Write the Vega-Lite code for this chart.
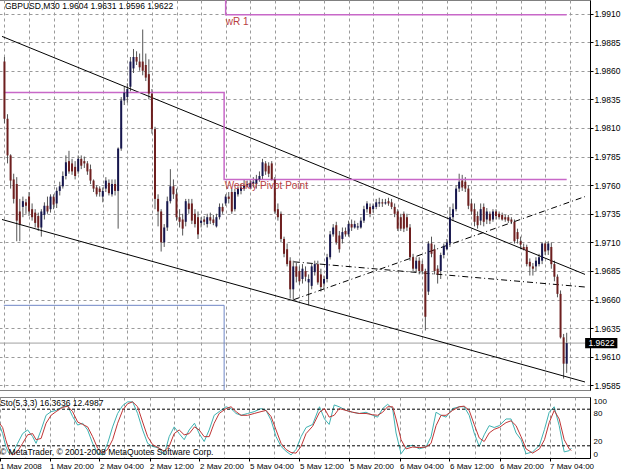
{
  "$schema": "https://vega.github.io/schema/vega-lite/v6.json",
  "padding": {"left": -4, "top": -4, "right": 0, "bottom": 0},
  "background": "white",
  "spacing": 3,
  "config": {
    "font": "Liberation Sans",
    "view": {"stroke": "#808080", "strokeWidth": 1},
    "text": {"font": "Liberation Sans"},
    "axis": {"labelOverlap": false, "labelFlush": false, "tickCount": 100}
  },
  "datasets": {
    "candles": [
      {"i":0,"o":1.9868,"h":1.9872,"l":1.9814,"c":1.9818},
      {"i":1,"o":1.9818,"h":1.9822,"l":1.9779,"c":1.9786},
      {"i":2,"o":1.9786,"h":1.9787,"l":1.9757,"c":1.9764},
      {"i":3,"o":1.9765,"h":1.9770,"l":1.9744,"c":1.9748},
      {"i":4,"o":1.9761,"h":1.9767,"l":1.9711,"c":1.9729},
      {"i":5,"o":1.9737,"h":1.9748,"l":1.9711,"c":1.9726},
      {"i":6,"o":1.9741,"h":1.9750,"l":1.9732,"c":1.9746},
      {"i":7,"o":1.9745,"h":1.9748,"l":1.9735,"c":1.9742},
      {"i":8,"o":1.9750,"h":1.9754,"l":1.9733,"c":1.9737},
      {"i":9,"o":1.9739,"h":1.9744,"l":1.9729,"c":1.9732},
      {"i":10,"o":1.9736,"h":1.9739,"l":1.9723,"c":1.9727},
      {"i":11,"o":1.9733,"h":1.9736,"l":1.9720,"c":1.9723},
      {"i":12,"o":1.9723,"h":1.9739,"l":1.9715,"c":1.9737},
      {"i":13,"o":1.9734,"h":1.9745,"l":1.9730,"c":1.9742},
      {"i":14,"o":1.9742,"h":1.9750,"l":1.9735,"c":1.9737},
      {"i":15,"o":1.9739,"h":1.9752,"l":1.9736,"c":1.9750},
      {"i":16,"o":1.9750,"h":1.9752,"l":1.9739,"c":1.9743},
      {"i":17,"o":1.9744,"h":1.9758,"l":1.9740,"c":1.9755},
      {"i":18,"o":1.9755,"h":1.9763,"l":1.9751,"c":1.9759},
      {"i":19,"o":1.9759,"h":1.9772,"l":1.9757,"c":1.9768},
      {"i":20,"o":1.9768,"h":1.9786,"l":1.9765,"c":1.9780},
      {"i":21,"o":1.9781,"h":1.9790,"l":1.9770,"c":1.9772},
      {"i":22,"o":1.9779,"h":1.9783,"l":1.9769,"c":1.9772},
      {"i":23,"o":1.9776,"h":1.9781,"l":1.9765,"c":1.9768},
      {"i":24,"o":1.9772,"h":1.9786,"l":1.9770,"c":1.9783},
      {"i":25,"o":1.9783,"h":1.9786,"l":1.9774,"c":1.9777},
      {"i":26,"o":1.9781,"h":1.9785,"l":1.9775,"c":1.9779},
      {"i":27,"o":1.9779,"h":1.9781,"l":1.9769,"c":1.9772},
      {"i":28,"o":1.9774,"h":1.9778,"l":1.9761,"c":1.9764},
      {"i":29,"o":1.9764,"h":1.9765,"l":1.9754,"c":1.9757},
      {"i":30,"o":1.9758,"h":1.9760,"l":1.9750,"c":1.9752},
      {"i":31,"o":1.9757,"h":1.9759,"l":1.9750,"c":1.9754},
      {"i":32,"o":1.9750,"h":1.9758,"l":1.9745,"c":1.9755},
      {"i":33,"o":1.9757,"h":1.9767,"l":1.9754,"c":1.9764},
      {"i":34,"o":1.9762,"h":1.9765,"l":1.9751,"c":1.9753},
      {"i":35,"o":1.9752,"h":1.9765,"l":1.9750,"c":1.9761},
      {"i":36,"o":1.9761,"h":1.9765,"l":1.9751,"c":1.9755},
      {"i":37,"o":1.9755,"h":1.9793,"l":1.9722,"c":1.9792},
      {"i":38,"o":1.9792,"h":1.9837,"l":1.9790,"c":1.9834},
      {"i":39,"o":1.9834,"h":1.9846,"l":1.9830,"c":1.9841},
      {"i":40,"o":1.9837,"h":1.9849,"l":1.9832,"c":1.9844},
      {"i":41,"o":1.9846,"h":1.9872,"l":1.9842,"c":1.9868},
      {"i":42,"o":1.9862,"h":1.9879,"l":1.9858,"c":1.9872},
      {"i":43,"o":1.9872,"h":1.9877,"l":1.9865,"c":1.9868},
      {"i":44,"o":1.9868,"h":1.9875,"l":1.9860,"c":1.9863},
      {"i":45,"o":1.9868,"h":1.9896,"l":1.9856,"c":1.9860},
      {"i":46,"o":1.9865,"h":1.9875,"l":1.9851,"c":1.9854},
      {"i":47,"o":1.9857,"h":1.9870,"l":1.9835,"c":1.9840},
      {"i":48,"o":1.9840,"h":1.9844,"l":1.9805,"c":1.9809},
      {"i":49,"o":1.9809,"h":1.9811,"l":1.9739,"c":1.9748},
      {"i":50,"o":1.9748,"h":1.9752,"l":1.9724,"c":1.9737},
      {"i":51,"o":1.9737,"h":1.9739,"l":1.9702,"c":1.9710},
      {"i":52,"o":1.9710,"h":1.9726,"l":1.9706,"c":1.9723},
      {"i":53,"o":1.9723,"h":1.9750,"l":1.9720,"c":1.9746},
      {"i":54,"o":1.9746,"h":1.9774,"l":1.9744,"c":1.9759},
      {"i":55,"o":1.9759,"h":1.9765,"l":1.9748,"c":1.9752},
      {"i":56,"o":1.9752,"h":1.9757,"l":1.9729,"c":1.9732},
      {"i":57,"o":1.9732,"h":1.9739,"l":1.9723,"c":1.9728},
      {"i":58,"o":1.9730,"h":1.9735,"l":1.9716,"c":1.9722},
      {"i":59,"o":1.9728,"h":1.9748,"l":1.9724,"c":1.9746},
      {"i":60,"o":1.9744,"h":1.9748,"l":1.9735,"c":1.9739},
      {"i":61,"o":1.9744,"h":1.9748,"l":1.9726,"c":1.9729},
      {"i":62,"o":1.9735,"h":1.9739,"l":1.9723,"c":1.9726},
      {"i":63,"o":1.9732,"h":1.9737,"l":1.9713,"c":1.9717},
      {"i":64,"o":1.9727,"h":1.9732,"l":1.9723,"c":1.9729},
      {"i":65,"o":1.9730,"h":1.9733,"l":1.9725,"c":1.9728},
      {"i":66,"o":1.9726,"h":1.9735,"l":1.9723,"c":1.9732},
      {"i":67,"o":1.9732,"h":1.9736,"l":1.9726,"c":1.9729},
      {"i":68,"o":1.9730,"h":1.9734,"l":1.9725,"c":1.9727},
      {"i":69,"o":1.9724,"h":1.9735,"l":1.9723,"c":1.9732},
      {"i":70,"o":1.9732,"h":1.9744,"l":1.9730,"c":1.9741},
      {"i":71,"o":1.9741,"h":1.9744,"l":1.9735,"c":1.9737},
      {"i":72,"o":1.9744,"h":1.9752,"l":1.9742,"c":1.9750},
      {"i":73,"o":1.9750,"h":1.9754,"l":1.9744,"c":1.9748},
      {"i":74,"o":1.9754,"h":1.9757,"l":1.9735,"c":1.9737},
      {"i":75,"o":1.9739,"h":1.9757,"l":1.9737,"c":1.9754},
      {"i":76,"o":1.9752,"h":1.9759,"l":1.9750,"c":1.9757},
      {"i":77,"o":1.9755,"h":1.9761,"l":1.9752,"c":1.9758},
      {"i":78,"o":1.9757,"h":1.9765,"l":1.9755,"c":1.9760},
      {"i":79,"o":1.9760,"h":1.9764,"l":1.9758,"c":1.9761},
      {"i":80,"o":1.9758,"h":1.9765,"l":1.9757,"c":1.9762},
      {"i":81,"o":1.9761,"h":1.9767,"l":1.9758,"c":1.9763},
      {"i":82,"o":1.9761,"h":1.9769,"l":1.9757,"c":1.9765},
      {"i":83,"o":1.9765,"h":1.9772,"l":1.9763,"c":1.9768},
      {"i":84,"o":1.9768,"h":1.9783,"l":1.9765,"c":1.9780},
      {"i":85,"o":1.9779,"h":1.9781,"l":1.9769,"c":1.9772},
      {"i":86,"o":1.9777,"h":1.9780,"l":1.9767,"c":1.9770},
      {"i":87,"o":1.9779,"h":1.9781,"l":1.9764,"c":1.9765},
      {"i":88,"o":1.9765,"h":1.9767,"l":1.9735,"c":1.9737},
      {"i":89,"o":1.9739,"h":1.9744,"l":1.9729,"c":1.9732},
      {"i":90,"o":1.9735,"h":1.9737,"l":1.9710,"c":1.9713},
      {"i":91,"o":1.9713,"h":1.9715,"l":1.9697,"c":1.9700},
      {"i":92,"o":1.9704,"h":1.9709,"l":1.9689,"c":1.9691},
      {"i":93,"o":1.9694,"h":1.9697,"l":1.9661,"c":1.9669},
      {"i":94,"o":1.9669,"h":1.9694,"l":1.9659,"c":1.9689},
      {"i":95,"o":1.9689,"h":1.9692,"l":1.9675,"c":1.9680},
      {"i":96,"o":1.9685,"h":1.9689,"l":1.9673,"c":1.9676},
      {"i":97,"o":1.9678,"h":1.9691,"l":1.9674,"c":1.9687},
      {"i":98,"o":1.9685,"h":1.9689,"l":1.9676,"c":1.9680},
      {"i":99,"o":1.9675,"h":1.9682,"l":1.9655,"c":1.9678},
      {"i":100,"o":1.9672,"h":1.9691,"l":1.9669,"c":1.9689},
      {"i":101,"o":1.9684,"h":1.9694,"l":1.9681,"c":1.9691},
      {"i":102,"o":1.9691,"h":1.9694,"l":1.9673,"c":1.9675},
      {"i":103,"o":1.9682,"h":1.9687,"l":1.9667,"c":1.9671},
      {"i":104,"o":1.9674,"h":1.9681,"l":1.9669,"c":1.9678},
      {"i":105,"o":1.9678,"h":1.9700,"l":1.9675,"c":1.9697},
      {"i":106,"o":1.9697,"h":1.9720,"l":1.9695,"c":1.9717},
      {"i":107,"o":1.9717,"h":1.9726,"l":1.9715,"c":1.9723},
      {"i":108,"o":1.9725,"h":1.9728,"l":1.9708,"c":1.9710},
      {"i":109,"o":1.9716,"h":1.9720,"l":1.9701,"c":1.9704},
      {"i":110,"o":1.9713,"h":1.9723,"l":1.9709,"c":1.9719},
      {"i":111,"o":1.9720,"h":1.9723,"l":1.9715,"c":1.9717},
      {"i":112,"o":1.9717,"h":1.9729,"l":1.9715,"c":1.9726},
      {"i":113,"o":1.9726,"h":1.9730,"l":1.9720,"c":1.9723},
      {"i":114,"o":1.9723,"h":1.9729,"l":1.9722,"c":1.9726},
      {"i":115,"o":1.9723,"h":1.9727,"l":1.9721,"c":1.9724},
      {"i":116,"o":1.9723,"h":1.9732,"l":1.9722,"c":1.9729},
      {"i":117,"o":1.9729,"h":1.9742,"l":1.9727,"c":1.9739},
      {"i":118,"o":1.9739,"h":1.9746,"l":1.9736,"c":1.9744},
      {"i":119,"o":1.9741,"h":1.9744,"l":1.9732,"c":1.9735},
      {"i":120,"o":1.9739,"h":1.9744,"l":1.9736,"c":1.9742},
      {"i":121,"o":1.9741,"h":1.9748,"l":1.9739,"c":1.9745},
      {"i":122,"o":1.9744,"h":1.9749,"l":1.9741,"c":1.9745},
      {"i":123,"o":1.9745,"h":1.9748,"l":1.9741,"c":1.9744},
      {"i":124,"o":1.9744,"h":1.9748,"l":1.9743,"c":1.9745},
      {"i":125,"o":1.9746,"h":1.9749,"l":1.9742,"c":1.9744},
      {"i":126,"o":1.9745,"h":1.9748,"l":1.9739,"c":1.9741},
      {"i":127,"o":1.9741,"h":1.9744,"l":1.9732,"c":1.9735},
      {"i":128,"o":1.9737,"h":1.9739,"l":1.9720,"c":1.9722},
      {"i":129,"o":1.9732,"h":1.9735,"l":1.9720,"c":1.9722},
      {"i":130,"o":1.9735,"h":1.9737,"l":1.9719,"c":1.9722},
      {"i":131,"o":1.9732,"h":1.9735,"l":1.9720,"c":1.9723},
      {"i":132,"o":1.9723,"h":1.9726,"l":1.9694,"c":1.9697},
      {"i":133,"o":1.9697,"h":1.9700,"l":1.9685,"c":1.9687},
      {"i":134,"o":1.9687,"h":1.9697,"l":1.9684,"c":1.9694},
      {"i":135,"o":1.9694,"h":1.9697,"l":1.9682,"c":1.9685},
      {"i":136,"o":1.9691,"h":1.9694,"l":1.9682,"c":1.9685},
      {"i":137,"o":1.9685,"h":1.9687,"l":1.9633,"c":1.9645},
      {"i":138,"o":1.9667,"h":1.9711,"l":1.9664,"c":1.9709},
      {"i":139,"o":1.9709,"h":1.9715,"l":1.9697,"c":1.9700},
      {"i":140,"o":1.9704,"h":1.9708,"l":1.9682,"c":1.9685},
      {"i":141,"o":1.9687,"h":1.9690,"l":1.9674,"c":1.9682},
      {"i":142,"o":1.9685,"h":1.9701,"l":1.9678,"c":1.9699},
      {"i":143,"o":1.9699,"h":1.9709,"l":1.9696,"c":1.9707},
      {"i":144,"o":1.9704,"h":1.9713,"l":1.9703,"c":1.9710},
      {"i":145,"o":1.9709,"h":1.9741,"l":1.9706,"c":1.9732},
      {"i":146,"o":1.9732,"h":1.9744,"l":1.9729,"c":1.9739},
      {"i":147,"o":1.9739,"h":1.9760,"l":1.9737,"c":1.9757},
      {"i":148,"o":1.9757,"h":1.9770,"l":1.9754,"c":1.9763},
      {"i":149,"o":1.9764,"h":1.9769,"l":1.9755,"c":1.9758},
      {"i":150,"o":1.9763,"h":1.9767,"l":1.9754,"c":1.9757},
      {"i":151,"o":1.9757,"h":1.9760,"l":1.9739,"c":1.9742},
      {"i":152,"o":1.9744,"h":1.9748,"l":1.9734,"c":1.9737},
      {"i":153,"o":1.9739,"h":1.9744,"l":1.9724,"c":1.9728},
      {"i":154,"o":1.9733,"h":1.9737,"l":1.9722,"c":1.9725},
      {"i":155,"o":1.9729,"h":1.9744,"l":1.9725,"c":1.9739},
      {"i":156,"o":1.9741,"h":1.9744,"l":1.9724,"c":1.9728},
      {"i":157,"o":1.9730,"h":1.9740,"l":1.9726,"c":1.9737},
      {"i":158,"o":1.9735,"h":1.9737,"l":1.9726,"c":1.9729},
      {"i":159,"o":1.9730,"h":1.9739,"l":1.9728,"c":1.9737},
      {"i":160,"o":1.9737,"h":1.9739,"l":1.9730,"c":1.9733},
      {"i":161,"o":1.9735,"h":1.9737,"l":1.9730,"c":1.9732},
      {"i":162,"o":1.9734,"h":1.9736,"l":1.9729,"c":1.9730},
      {"i":163,"o":1.9732,"h":1.9734,"l":1.9728,"c":1.9730},
      {"i":164,"o":1.9732,"h":1.9734,"l":1.9727,"c":1.9729},
      {"i":165,"o":1.9730,"h":1.9732,"l":1.9726,"c":1.9728},
      {"i":166,"o":1.9728,"h":1.9730,"l":1.9709,"c":1.9711},
      {"i":167,"o":1.9719,"h":1.9722,"l":1.9709,"c":1.9713},
      {"i":168,"o":1.9711,"h":1.9715,"l":1.9704,"c":1.9708},
      {"i":169,"o":1.9706,"h":1.9709,"l":1.9703,"c":1.9704},
      {"i":170,"o":1.9706,"h":1.9708,"l":1.9689,"c":1.9691},
      {"i":171,"o":1.9693,"h":1.9696,"l":1.9681,"c":1.9689},
      {"i":172,"o":1.9689,"h":1.9692,"l":1.9681,"c":1.9687},
      {"i":173,"o":1.9689,"h":1.9697,"l":1.9685,"c":1.9694},
      {"i":174,"o":1.9691,"h":1.9700,"l":1.9689,"c":1.9697},
      {"i":175,"o":1.9694,"h":1.9710,"l":1.9691,"c":1.9709},
      {"i":176,"o":1.9709,"h":1.9710,"l":1.9699,"c":1.9702},
      {"i":177,"o":1.9703,"h":1.9711,"l":1.9699,"c":1.9709},
      {"i":178,"o":1.9706,"h":1.9710,"l":1.9687,"c":1.9691},
      {"i":179,"o":1.9691,"h":1.9694,"l":1.9676,"c":1.9680},
      {"i":180,"o":1.9680,"h":1.9682,"l":1.9662,"c":1.9665},
      {"i":181,"o":1.9665,"h":1.9668,"l":1.9626,"c":1.9627},
      {"i":182,"o":1.9627,"h":1.9630,"l":1.9591,"c":1.9604},
      {"i":183,"o":1.9604,"h":1.9631,"l":1.9596,"c":1.9622}
    ],
    "stoch": [
      {"i":0,"k":54,"d":57},{"i":1,"k":40,"d":50},{"i":2,"k":19,"d":30},{"i":3,"k":8,"d":14},
      {"i":4.2,"k":8,"d":5},{"i":5.8,"k":24,"d":11},{"i":7.4,"k":40,"d":24},{"i":9,"k":46,"d":38},
      {"i":10.6,"k":35,"d":40},{"i":11.7,"k":24,"d":30},{"i":13.3,"k":46,"d":32},{"i":14.9,"k":70,"d":57},
      {"i":16.5,"k":76,"d":70},{"i":18.1,"k":78,"d":76},{"i":20.2,"k":84,"d":83},{"i":21.8,"k":86,"d":85},
      {"i":23.4,"k":68,"d":76},{"i":25,"k":54,"d":59},{"i":26.6,"k":57,"d":55},{"i":28.2,"k":46,"d":51},
      {"i":29.8,"k":24,"d":35},{"i":31.4,"k":8,"d":16},{"i":33,"k":5,"d":8},{"i":34.6,"k":24,"d":14},
      {"i":36.2,"k":51,"d":30},{"i":37.8,"k":73,"d":57},{"i":39.4,"k":86,"d":78},{"i":41,"k":92,"d":89},
      {"i":42.6,"k":92,"d":92},{"i":44.2,"k":73,"d":84},{"i":45.8,"k":46,"d":59},{"i":47.4,"k":24,"d":35},
      {"i":49,"k":19,"d":22},{"i":51.1,"k":16,"d":16},{"i":52.7,"k":5,"d":11},{"i":54.3,"k":35,"d":19},
      {"i":55.9,"k":51,"d":40},{"i":57.5,"k":40,"d":46},{"i":59.1,"k":30,"d":38},{"i":60.7,"k":46,"d":40},
      {"i":62.4,"k":57,"d":51},{"i":63.9,"k":40,"d":46},{"i":65.5,"k":27,"d":35},{"i":67.1,"k":46,"d":35},
      {"i":68.7,"k":70,"d":57},{"i":70.3,"k":76,"d":73},{"i":72.5,"k":84,"d":81},{"i":74.1,"k":81,"d":84},
      {"i":75.7,"k":73,"d":76},{"i":77.3,"k":70,"d":70},{"i":79.4,"k":73,"d":70},{"i":81.5,"k":76,"d":73},
      {"i":83.7,"k":81,"d":76},{"i":85.3,"k":78,"d":78},{"i":86.9,"k":62,"d":68},{"i":88.5,"k":35,"d":46},
      {"i":90.1,"k":19,"d":24},{"i":91.7,"k":11,"d":14},{"i":93.3,"k":5,"d":9},{"i":94.9,"k":14,"d":8},
      {"i":96.5,"k":35,"d":19},{"i":98.1,"k":50,"d":40},{"i":100.2,"k":55,"d":52},{"i":102.4,"k":84,"d":75},
      {"i":104,"k":64,"d":81},{"i":105.5,"k":55,"d":67},{"i":107.1,"k":87,"d":70},{"i":108.7,"k":84,"d":81},
      {"i":110.9,"k":78,"d":78},{"i":113,"k":75,"d":75},{"i":115.1,"k":73,"d":73},{"i":117.3,"k":75,"d":73},
      {"i":119.4,"k":70,"d":71},{"i":121,"k":67,"d":70},{"i":122.6,"k":81,"d":75},{"i":124.2,"k":88,"d":84},
      {"i":125.8,"k":81,"d":84},{"i":126.9,"k":41,"d":64},{"i":128.5,"k":7,"d":30},{"i":130.1,"k":18,"d":15},
      {"i":132.2,"k":21,"d":18},{"i":134.3,"k":15,"d":17},{"i":136.5,"k":18,"d":18},{"i":138.1,"k":35,"d":24},
      {"i":139.7,"k":75,"d":53},{"i":141.3,"k":70,"d":70},{"i":142.9,"k":67,"d":70},{"i":145,"k":81,"d":78},
      {"i":147.1,"k":84,"d":84},{"i":148.7,"k":84,"d":85},{"i":150.3,"k":70,"d":78},{"i":151.9,"k":41,"d":55},
      {"i":153.5,"k":19,"d":33},{"i":155.1,"k":38,"d":27},{"i":156.7,"k":53,"d":41},{"i":158.3,"k":50,"d":47},
      {"i":159.9,"k":53,"d":50},{"i":162.1,"k":64,"d":58},{"i":163.7,"k":64,"d":61},{"i":165.3,"k":41,"d":53},
      {"i":166.9,"k":30,"d":35},{"i":168.5,"k":7,"d":15},{"i":170.6,"k":10,"d":8},{"i":172.8,"k":21,"d":15},
      {"i":174.4,"k":47,"d":30},{"i":175.9,"k":75,"d":58},{"i":177.5,"k":84,"d":78},{"i":179.1,"k":53,"d":64},
      {"i":180.7,"k":10,"d":30},{"i":182.3,"k":12,"d":15},{"i":183,"k":16.3636,"d":12.4987}
    ]
  },
  "vconcat": [
    {
      "width": 593,
      "height": 390,
      "layer": [
        {
          "data": {"name": "candles"},
          "mark": {"type": "rule", "color": "#555555", "strokeWidth": 1},
          "encoding": {
            "x": {"field": "i", "type": "quantitative", "title": null, "scale": {"domain": [-0.8, 188.96], "nice": false, "zero": false},
              "axis": {"values": [0,8,16,24,32,40,48,56,64,72,80,88,96,104,112,120,128,136,144,152,160,168,176,184], "tickCount": 100, "labels": false, "ticks": false, "domain": false, "grid": true, "gridColor": "#9a9a9a", "gridDash": [3,3], "title": null}},
            "y": {"field": "l", "type": "quantitative", "title": null, "scale": {"domain": [1.9581, 1.99218], "nice": false, "zero": false},
              "axis": {"orient": "right", "values": [1.9585,1.961,1.9635,1.966,1.9685,1.971,1.9735,1.976,1.9785,1.981,1.9835,1.986,1.9885,1.991], "tickCount": 100, "format": ".4f", "title": null, "grid": true, "gridColor": "#9a9a9a", "gridDash": [3,3], "domain": true, "domainColor": "#000000", "ticks": true, "tickSize": 3, "tickColor": "#000000", "labelFontSize": 8.5, "labelColor": "#000000", "labelPadding": 1, "labelFlush": false, "labelOverlap": false}},
            "y2": {"field": "h"}
          }
        },
        {
          "data": {"values": [{"p": 1.9622}]},
          "mark": {"type": "rule", "color": "#a0a0a0", "strokeWidth": 1},
          "encoding": {
            "y": {"field": "p", "type": "quantitative", "title": null, "scale": {"domain": [1.9581, 1.99218], "nice": false, "zero": false}}
          }
        },
        {
          "data": {"values": [
            {"id": "up", "i": -0.8, "p": 1.9890}, {"id": "up", "i": 188.96, "p": 1.9682},
            {"id": "low", "i": -0.8, "p": 1.9730}, {"id": "low", "i": 188.96, "p": 1.9588}
          ]},
          "mark": {"type": "line", "color": "#000000", "strokeWidth": 1},
          "encoding": {
            "x": {"field": "i", "type": "quantitative", "title": null, "scale": {"domain": [-0.8, 188.96], "nice": false, "zero": false}},
            "y": {"field": "p", "type": "quantitative", "title": null, "scale": {"domain": [1.9581, 1.99218], "nice": false, "zero": false}},
            "detail": {"field": "id"}
          }
        },
        {
          "data": {"values": [
            {"id": "a", "i": 94.2, "p": 1.9693}, {"id": "a", "i": 188.96, "p": 1.9671},
            {"id": "b", "i": 94.2, "p": 1.9660}, {"id": "b", "i": 188.96, "p": 1.9750}
          ]},
          "mark": {"type": "line", "color": "#000000", "strokeWidth": 1, "strokeDash": [6, 3, 1, 3]},
          "encoding": {
            "x": {"field": "i", "type": "quantitative", "title": null, "scale": {"domain": [-0.8, 188.96], "nice": false, "zero": false}},
            "y": {"field": "p", "type": "quantitative", "title": null, "scale": {"domain": [1.9581, 1.99218], "nice": false, "zero": false}},
            "detail": {"field": "id"}
          }
        },
        {
          "data": {"values": [
            {"id": "pp", "k": 1, "i": -0.2, "p": 1.9841}, {"id": "pp", "k": 2, "i": 71.5, "p": 1.9841},
            {"id": "pp", "k": 3, "i": 71.5, "p": 1.9765}, {"id": "pp", "k": 4, "i": 183, "p": 1.9765},
            {"id": "r1", "k": 1, "i": 72, "p": 1.99218}, {"id": "r1", "k": 2, "i": 72, "p": 1.9909},
            {"id": "r1", "k": 3, "i": 183, "p": 1.9909}
          ]},
          "mark": {"type": "line", "color": "#c868c8", "strokeWidth": 1.5},
          "encoding": {
            "x": {"field": "i", "type": "quantitative", "title": null, "scale": {"domain": [-0.8, 188.96], "nice": false, "zero": false}},
            "y": {"field": "p", "type": "quantitative", "title": null, "scale": {"domain": [1.9581, 1.99218], "nice": false, "zero": false}},
            "detail": {"field": "id"},
            "order": {"field": "k"}
          }
        },
        {
          "data": {"values": [
            {"k": 1, "i": -0.2, "p": 1.9655}, {"k": 2, "i": 71.5, "p": 1.9655}, {"k": 3, "i": 71.5, "p": 1.9581}
          ]},
          "mark": {"type": "line", "color": "#6f86c6", "strokeWidth": 1},
          "encoding": {
            "x": {"field": "i", "type": "quantitative", "title": null, "scale": {"domain": [-0.8, 188.96], "nice": false, "zero": false}},
            "y": {"field": "p", "type": "quantitative", "title": null, "scale": {"domain": [1.9581, 1.99218], "nice": false, "zero": false}},
            "order": {"field": "k"}
          }
        },
        {
          "data": {"name": "candles"},
          "mark": {"type": "bar", "size": 2},
          "encoding": {
            "x": {"field": "i", "type": "quantitative", "title": null, "scale": {"domain": [-0.8, 188.96], "nice": false, "zero": false}},
            "y": {"field": "o", "type": "quantitative", "title": null, "scale": {"domain": [1.9581, 1.99218], "nice": false, "zero": false}},
            "y2": {"field": "c"},
            "color": {"condition": {"test": "datum.c >= datum.o", "value": "#16164e"}, "value": "#6e1f1f"}
          }
        },
        {
          "data": {"values": [
            {"i": 72, "p": 1.9909, "t": "wR 1"},
            {"i": 71.7, "p": 1.9765, "t": "Weekly Pivot Point"}
          ]},
          "mark": {"type": "text", "align": "left", "baseline": "top", "dy": 2, "fontSize": 10, "color": "#b8403f"},
          "encoding": {
            "x": {"field": "i", "type": "quantitative", "title": null, "scale": {"domain": [-0.8, 188.96], "nice": false, "zero": false}},
            "y": {"field": "p", "type": "quantitative", "title": null, "scale": {"domain": [1.9581, 1.99218], "nice": false, "zero": false}},
            "text": {"field": "t"}
          }
        },
        {
          "data": {"values": [{"i": -0.8, "p": 1.99218, "t": "GBPUSD,M30 1.9604 1.9631 1.9596 1.9622"}]},
          "mark": {"type": "text", "align": "left", "baseline": "top", "dx": 3, "dy": 2, "fontSize": 8.5, "color": "#000000"},
          "encoding": {
            "x": {"field": "i", "type": "quantitative", "title": null, "scale": {"domain": [-0.8, 188.96], "nice": false, "zero": false}},
            "y": {"field": "p", "type": "quantitative", "title": null, "scale": {"domain": [1.9581, 1.99218], "nice": false, "zero": false}},
            "text": {"field": "t"}
          }
        },
        {
          "data": {"values": [{"i": 189.0, "i2": 199.5, "p": 1.96265, "p2": 1.96175}]},
          "mark": {"type": "rect", "color": "#000000"},
          "encoding": {
            "x": {"field": "i", "type": "quantitative", "title": null, "scale": {"domain": [-0.8, 188.96], "nice": false, "zero": false}},
            "x2": {"field": "i2"},
            "y": {"field": "p", "type": "quantitative", "title": null, "scale": {"domain": [1.9581, 1.99218], "nice": false, "zero": false}},
            "y2": {"field": "p2"}
          }
        },
        {
          "data": {"values": [{"i": 190.1, "p": 1.9622, "t": "1.9622"}]},
          "mark": {"type": "text", "align": "left", "baseline": "middle", "fontSize": 8.5, "color": "#ffffff"},
          "encoding": {
            "x": {"field": "i", "type": "quantitative", "title": null, "scale": {"domain": [-0.8, 188.96], "nice": false, "zero": false}},
            "y": {"field": "p", "type": "quantitative", "title": null, "scale": {"domain": [1.9581, 1.99218], "nice": false, "zero": false}},
            "text": {"field": "t"}
          }
        }
      ]
    },
    {
      "width": 593,
      "height": 61,
      "layer": [
        {
          "data": {"name": "stoch"},
          "mark": {"type": "line", "color": "#3fb2b2", "strokeWidth": 1},
          "encoding": {
            "x": {"field": "i", "type": "quantitative", "title": null, "scale": {"domain": [-0.8, 188.96], "nice": false, "zero": false},
              "axis": {"values": [0,8,16,24,32,40,48,56,64,72,80,88,96,104,112,120,128,136,144,152,160,168,176,184], "tickCount": 100,
                "labelExpr": "datum.value % 16 === 0 ? ['1 May 2008','1 May 20:00','2 May 04:00','2 May 12:00','2 May 20:00','5 May 04:00','5 May 12:00','5 May 20:00','6 May 04:00','6 May 12:00','6 May 20:00','7 May 04:00'][datum.value / 16] : ''",
                "labelAlign": "left", "labelBaseline": "top", "labelPadding": 1, "labelFontSize": 8, "labelColor": "#000000", "labelFlush": false, "labelOverlap": false,
                "ticks": true, "tickSize": 3, "tickColor": "#000000", "tickOpacity": {"condition": {"test": "datum.value % 16 === 0", "value": 1}, "value": 0},
                "domain": true, "domainColor": "#000000", "grid": true, "gridColor": "#9a9a9a", "gridDash": [3, 3], "title": null}},
            "y": {"field": "k", "type": "quantitative", "title": null, "scale": {"domain": [0, 100], "nice": false},
              "axis": {"orient": "right", "values": [0, 20, 80, 100], "tickCount": 100, "title": null, "grid": false, "domain": true, "domainColor": "#000000", "ticks": false, "labelFontSize": 8, "labelColor": "#000000", "labelPadding": 3, "labelFlush": false, "labelOverlap": false,
                "labelBaseline": {"condition": {"test": "datum.value >= 50", "value": "top"}, "value": "bottom"}}}
          }
        },
        {
          "data": {"values": [{"lv": 20}, {"lv": 80}]},
          "mark": {"type": "rule", "color": "#000000", "strokeWidth": 1, "strokeDash": [3, 2]},
          "encoding": {
            "y": {"field": "lv", "type": "quantitative", "title": null, "scale": {"domain": [0, 100], "nice": false}}
          }
        },
        {
          "data": {"name": "stoch"},
          "mark": {"type": "line", "color": "#c03535", "strokeWidth": 1},
          "encoding": {
            "x": {"field": "i", "type": "quantitative", "title": null, "scale": {"domain": [-0.8, 188.96], "nice": false, "zero": false}},
            "y": {"field": "d", "type": "quantitative", "title": null, "scale": {"domain": [0, 100], "nice": false}}
          }
        },
        {
          "data": {"values": [{"i": -0.8, "v": 100, "t": "Sto(5,3,3) 16.3636 12.4987"}]},
          "mark": {"type": "text", "align": "left", "baseline": "top", "dx": 3, "dy": 2, "fontSize": 8.5, "color": "#000000"},
          "encoding": {
            "x": {"field": "i", "type": "quantitative", "title": null, "scale": {"domain": [-0.8, 188.96], "nice": false, "zero": false}},
            "y": {"field": "v", "type": "quantitative", "title": null, "scale": {"domain": [0, 100], "nice": false}},
            "text": {"field": "t"}
          }
        },
        {
          "data": {"values": [{"i": -0.8, "v": 0, "t": "© MetaTrader, © 2001-2008 MetaQuotes Software Corp."}]},
          "mark": {"type": "text", "align": "left", "baseline": "bottom", "dx": 3, "dy": -1, "fontSize": 8.5, "color": "#000000"},
          "encoding": {
            "x": {"field": "i", "type": "quantitative", "title": null, "scale": {"domain": [-0.8, 188.96], "nice": false, "zero": false}},
            "y": {"field": "v", "type": "quantitative", "title": null, "scale": {"domain": [0, 100], "nice": false}},
            "text": {"field": "t"}
          }
        }
      ]
    }
  ]
}
